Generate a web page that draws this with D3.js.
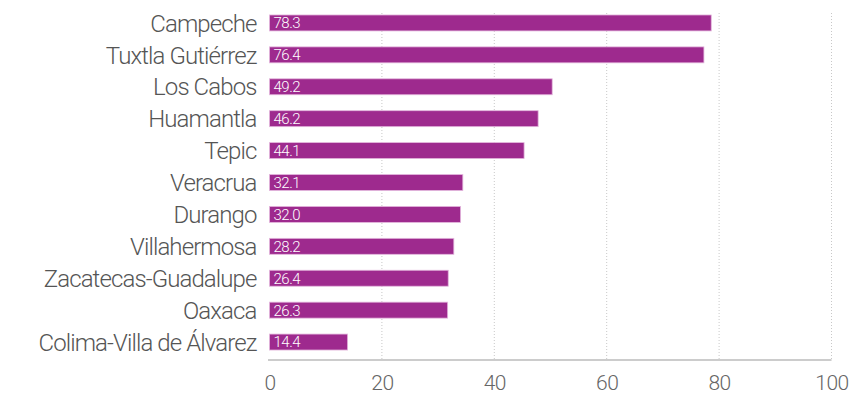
<!DOCTYPE html>
<html>
<head>
<meta charset="utf-8">
<script src="https://cdn.jsdelivr.net/npm/d3@7"></script>
<style>
  body { margin: 0; background: #fff; }
  text { font-family: Roboto, "Liberation Sans", sans-serif; font-weight: 300; }
</style>
</head>
<body>
<div id="chart"></div>
<script>
// datos
var ciudades = ["Campeche", "Tuxtla Gutiérrez", "Los Cabos", "Huamantla", "Tepic", "Veracrua",
                "Durango", "Villahermosa", "Zacatecas-Guadalupe", "Oaxaca", "Colima-Villa de Álvarez"];
// longitud de las barras tal como aparecen
var valores = [78.6, 77.3, 50.3, 47.8, 45.3, 34.4, 34.0, 32.8, 31.8, 31.7, 13.9];
// etiquetas dentro de las barras
var etiquetas = ["78.3", "76.4", "49.2", "46.2", "44.1", "32.1", "32.0", "28.2", "26.4", "26.3", "14.4"];
var ticks = [0, 20, 40, 60, 80, 100];

var margin = {top: 7, right: 18, bottom: 38, left: 269.5},
    width = 850 - margin.left - margin.right,
    height = 396 - margin.top - margin.bottom;

var svg = d3.select("#chart")
  .append("svg")
    .attr("width", 850)
    .attr("height", 396)
  .append("g")
    .attr("transform", "translate(" + margin.left + "," + margin.top + ")");

var x = d3.scaleLinear()
  .domain([0, 100])
  .range([0, 562]);

var y = d3.scaleBand()
  .domain(ciudades)
  .range([0, 351])
  .paddingInner(0.5)
  .paddingOuter(0.25);

// líneas de cuadrícula punteadas
svg.append("g")
  .selectAll("line")
  .data(ticks.slice(1))
  .enter()
  .append("line")
    .attr("x1", function(d) { return x(d); })
    .attr("x2", function(d) { return x(d); })
    .attr("y1", 6)
    .attr("y2", 353)
    .attr("stroke", "#c8c8c8")
    .attr("stroke-width", 1)
    .attr("stroke-dasharray", "1,2");

// eje X
var ejeX = svg.append("g")
  .attr("transform", "translate(0,353)")
  .call(d3.axisBottom(x).tickValues(ticks).tickSize(0).tickPadding(15));
ejeX.select(".domain").attr("stroke", "#999").attr("d", "M-1.5,0H562");
ejeX.selectAll("text")
  .attr("fill", "#666")
  .style("font-size", "21px")
  .style("letter-spacing", "-0.5px");

// barras
svg.append("g")
  .selectAll("rect")
  .data(ciudades)
  .enter()
  .append("rect")
    .attr("x", 0)
    .attr("y", function(d) { return y(d); })
    .attr("width", function(d, i) { return x(valores[i]); })
    .attr("height", y.bandwidth())
    .attr("fill", "#9e2a8e")
    .attr("stroke", "#e3b6dc")
    .attr("stroke-width", 0.8);

// etiquetas de valor
svg.append("g")
  .selectAll("text")
  .data(ciudades)
  .enter()
  .append("text")
    .attr("x", 4)
    .attr("y", function(d) { return y(d) + y.bandwidth() / 2; })
    .attr("dy", "0.36em")
    .attr("fill", "#fff")
    .style("font-size", "15px")
    .style("letter-spacing", "-0.5px")
    .text(function(d, i) { return etiquetas[i]; });

// nombres de ciudades
svg.append("g")
  .selectAll("text")
  .data(ciudades)
  .enter()
  .append("text")
    .attr("x", -13)
    .attr("y", function(d) { return y(d) + y.bandwidth() / 2; })
    .attr("dy", "0.36em")
    .attr("text-anchor", "end")
    .attr("fill", "#555")
    .style("font-size", "24px")
    .style("letter-spacing", "-0.9px")
    .text(function(d) { return d; });
</script>
</body>
</html>
